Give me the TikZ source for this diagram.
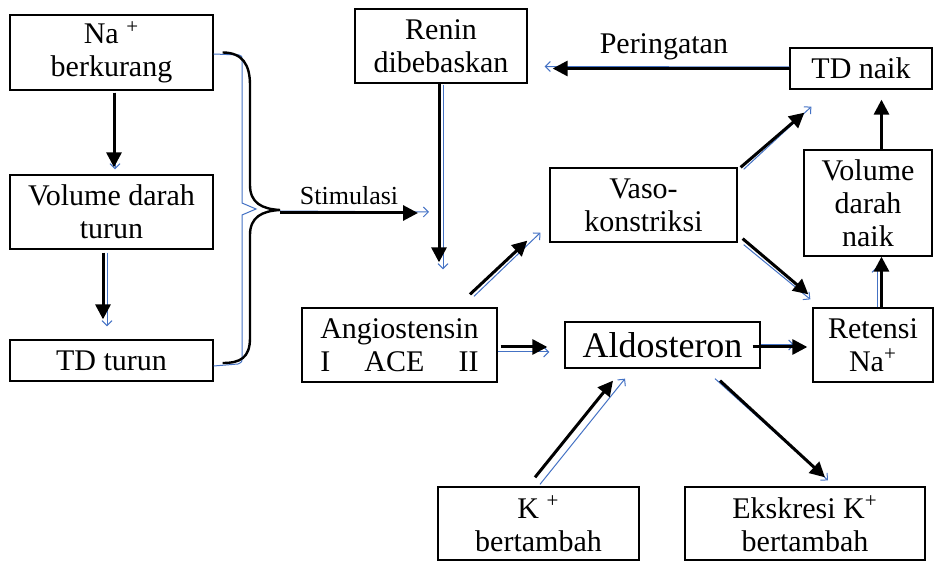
\documentclass[tikz,border=0pt]{standalone}
\usepackage{fontspec}
\setmainfont{Liberation Serif}
\usepackage{calc}
\usetikzlibrary{arrows.meta}
\definecolor{wordblue}{RGB}{68,114,196}
\tikzset{
	box/.style={draw, line width=0.65pt, inner sep=2pt, align=center, font=\fontsize{15}{16.5}\selectfont},
	lbl/.style={font=\fontsize{15}{16.5}\selectfont},
	flow/.style={line width=1.5pt, -{Triangle[length=7.5pt,width=7.5pt]}},
	ghost/.style={wordblue, line width=0.5pt, -{Straight Barb[length=2.5pt,width=5pt]}},
}

\begin{document}
\begin{tikzpicture}[x=0.5pt,y=-0.5pt]
		\useasboundingbox (0,0) rectangle (934,561);
		\node (naB) at (111.5,52.5) [box, minimum width=101.5pt, minimum height=37.5pt]{Na \textsuperscript{+}\\berkurang};
		\node (volT) at (111.5,212) [box, minimum width=101.5pt, minimum height=37pt]{Volume darah\\turun};
		\node (tdT) at (111.5,360.5) [box, minimum width=101.5pt, minimum height=20.5pt]{TD turun};
		\node (renin) at (441,46) [box, minimum width=86pt, minimum height=37pt]{Renin\\dibebaskan};
		\node (tdN) at (861,68.5) [box, minimum width=71pt, minimum height=20.5pt]{TD naik};
		\node (vaso) at (643.5,205) [box, minimum width=93.5pt, minimum height=37pt]{Vaso-\\konstriksi};
		\node (volN) at (868,203) [box, minimum width=64pt, minimum height=53pt]{Volume\\darah\\naik};
		\node (ang) at (399.5,345) [box, minimum width=97.5pt, minimum height=37pt]{Angiostensin\\\makebox[\widthof{Angiostensin}]{I\hfill ACE\hfill II}};
		\node (aldo) at (662.5,345) [box, minimum width=97.5pt, minimum height=23pt, font=\fontsize{18}{20}\selectfont]{Aldosteron};
		\node (ret) at (873,345) [box, minimum width=60pt, minimum height=37pt]{Retensi\\Na\textsuperscript{+}};
		\node (kB) at (538.5,523.5) [box, minimum width=100.5pt, minimum height=36.5pt]{K \textsuperscript{+}\\bertambah};
		\node (eks) at (805,523.5) [box, minimum width=120pt, minimum height=36.5pt]{Ekskresi K\textsuperscript{+}\\bertambah};
		\coordinate (braceTop) at ([xshift=4.5pt]naB.east);
		\coordinate (braceBot) at ([xshift=4.5pt,yshift=-1.25pt]tdT.east);
		\coordinate (braceTip) at (280,210);
		\coordinate (stim) at (418,213);
		\draw[wordblue, line width=0.5pt] ([yshift=-0.75pt]naB.east) -- (239,55) .. controls (242,56) .. (242,60) -- (242,203) -- (256,209) -- (242,215) -- (242,358) .. controls (242,362) .. (238,364) -- ([yshift=-2.75pt]tdT.east);
		\draw[line width=1.2pt] (braceTop) .. controls +(20,0) and +(0,-20) .. (250,85) -- (250,185) .. controls (250,203) and (262,209) .. (braceTip) .. controls (262,211) and (250,217) .. (250,235) -- (250,338) .. controls (250,358) and (240,363) .. (braceBot);
		\draw[ghost] ([xshift=1.75pt,yshift=-1pt]naB.south) -- ([xshift=1.75pt,yshift=2.5pt]volT.north);
		\draw[flow] ([xshift=1.25pt,yshift=-1pt]naB.south) -- ([xshift=1.25pt,yshift=3.5pt]volT.north);
		\draw[ghost] ([xshift=-2.25pt,yshift=-1.5pt]volT.south) -- ([xshift=-2.25pt,yshift=6.5pt]tdT.north);
		\draw[flow] ([xshift=-4.25pt,yshift=-1.5pt]volT.south) -- ([xshift=-4.25pt,yshift=10pt]tdT.north);
		\draw[ghost] ([yshift=-0.5pt]braceTip) -- ([xshift=5.5pt,yshift=0.5pt]stim);
		\draw[flow] ([yshift=-1.5pt]braceTip) -- (stim) node[midway, above, font=\fontsize{13}{15}\selectfont]{Stimulasi};
		\draw[ghost] ([yshift=0.75pt]tdN.west) -- ([xshift=8.5pt,yshift=-10.25pt]renin.east);
		\draw[flow] (tdN.west) -- ([xshift=12.5pt,yshift=-11.25pt]renin.east) node[pos=0.53, above, lbl]{Peringatan};
		\draw[ghost] ([xshift=1pt,yshift=-0.5pt]renin.south) -- ([xshift=21.75pt,yshift=19pt]ang.north);
		\draw[flow] ([xshift=-1pt]renin.south) -- ([xshift=19.75pt,yshift=22.5pt]ang.north);
		\draw[ghost] ([xshift=37.25pt,yshift=5.5pt]ang.north) -- ([xshift=-4.5pt,yshift=5pt]vaso.south west);
		\draw[flow] ([xshift=35.25pt,yshift=6.5pt]ang.north) -- ([xshift=-11pt,yshift=1pt]vaso.south west);
		\draw[ghost] ([xshift=3pt,yshift=-1pt]vaso.north east) -- ([xshift=11pt,yshift=-8.5pt]tdN.south west);
		\draw[flow] ([xshift=1.5pt]vaso.north east) -- ([xshift=7.5pt,yshift=-11.5pt]tdN.south west);
		\draw[ghost] ([xshift=3pt,yshift=-1pt]vaso.south east) -- ([xshift=-1pt,yshift=4pt]ret.north west);
		\draw[flow] ([xshift=2.5pt,yshift=2pt]vaso.south east) -- ([xshift=-2pt,yshift=6.5pt]ret.north west);
		\draw[ghost] ([xshift=2pt]ret.north) -- ([xshift=4.5pt,yshift=-5pt]volN.south);
		\draw[flow] ([xshift=4.25pt]ret.north) -- ([xshift=6.75pt]volN.south);
		\draw[flow] ([xshift=6.75pt]volN.north) -- ([xshift=10.25pt,yshift=-5pt]tdN.south);
		\draw[ghost] ([yshift=-3.5pt]ang.east) -- ([xshift=-7.5pt,yshift=-3.5pt]aldo.west);
		\draw[flow] ([xshift=1.5pt,yshift=-1pt]ang.east) -- ([xshift=-8.5pt,yshift=-1pt]aldo.west);
		\draw[ghost] (aldo.east) -- ([xshift=-9pt]ret.west);
		\draw[flow] ([xshift=-4pt,yshift=-1pt]aldo.east) -- ([xshift=-2.5pt,yshift=-1pt]ret.west);
		\draw[ghost] ([xshift=0.75pt,yshift=1pt]kB.north) -- ([xshift=-18.75pt,yshift=-5pt]aldo.south);
		\draw[flow] ([xshift=-1.75pt,yshift=4.5pt]kB.north) -- ([xshift=-24.75pt,yshift=-6pt]aldo.south);
		\draw[ghost] ([xshift=26.25pt,yshift=-5pt]aldo.south) -- ([xshift=11.5pt,yshift=3pt]eks.north);
		\draw[flow] ([xshift=28.75pt,yshift=-6pt]aldo.south) -- ([xshift=10pt,yshift=4.5pt]eks.north);
\end{tikzpicture}
\end{document}
